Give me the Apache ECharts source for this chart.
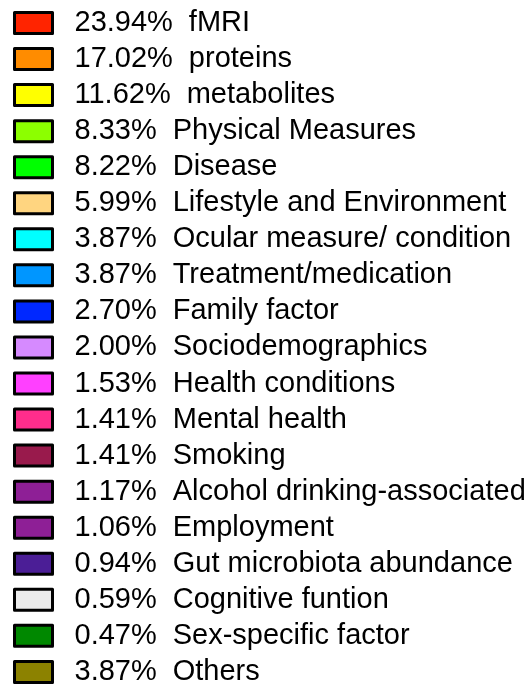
<!DOCTYPE html>
<html>
<head>
<meta charset="utf-8">
<script src="https://cdn.jsdelivr.net/npm/echarts@6/dist/echarts.min.js"></script>
<style>
  html, body { margin: 0; padding: 0; background: #fff; }
  #main { width: 527px; height: 687px; }
</style>
</head>
<body>
<div id="main"></div>
<script>
const categories = ['fMRI', 'proteins', 'metabolites', 'Physical Measures', 'Disease',
  'Lifestyle and Environment', 'Ocular measure/ condition', 'Treatment/medication',
  'Family factor', 'Sociodemographics', 'Health conditions', 'Mental health', 'Smoking',
  'Alcohol drinking-associated', 'Employment', 'Gut microbiota abundance',
  'Cognitive funtion', 'Sex-specific factor', 'Others']
const percents = [23.94, 17.02, 11.62, 8.33, 8.22, 5.99, 3.87, 3.87, 2.70, 2.00, 1.53,
  1.41, 1.41, 1.17, 1.06, 0.94, 0.59, 0.47, 3.87]
const colors = ['#ff2400', '#ff8c00', '#ffff00', '#8cff00', '#00ff00', '#ffd580',
  '#00ffff', '#0096ff', '#0028ff', '#d68aff', '#ff40ff', '#ff2d8c', '#991a4c',
  '#8e1f96', '#8e1f96', '#4b1e96', '#ebebeb', '#008800', '#8c8200']

const chart = echarts.init(document.getElementById('main'))

const font = '"Liberation Sans", Arial, sans-serif'

const label = name => {
  const i = categories.indexOf(name)
  return '{p|' + percents[i].toFixed(2) + '%}{n|' + name + '}'
}

const option = {
  animation: false,
  legend: {
    orient: 'vertical',
    left: 8,
    top: 3.5,
    height: 800,
    itemWidth: 38,
    itemHeight: 21,
    itemGap: 7.05,
    icon: 'rect',
    itemStyle: { borderColor: '#000', borderWidth: 3 },
    textStyle: {
      fontFamily: font,
      fontSize: 29,
      color: '#000',
      padding: [0, 0, 0, 17],
      rich: {
        p: { fontFamily: font, fontSize: 29, color: '#000' },
        n: { fontFamily: font, fontSize: 29, color: '#000', padding: [0, 0, 0, 16] }
      }
    },
    formatter: label,
    data: categories
  },
  series: [{
    type: 'pie',
    radius: [0, 0],
    center: [-100, -100],
    label: { show: false },
    data: categories.map((c, i) => ({
      name: c,
      value: percents[i],
      itemStyle: { color: colors[i] }
    }))
  }]
}

chart.setOption(option)
</script>
</body>
</html>
